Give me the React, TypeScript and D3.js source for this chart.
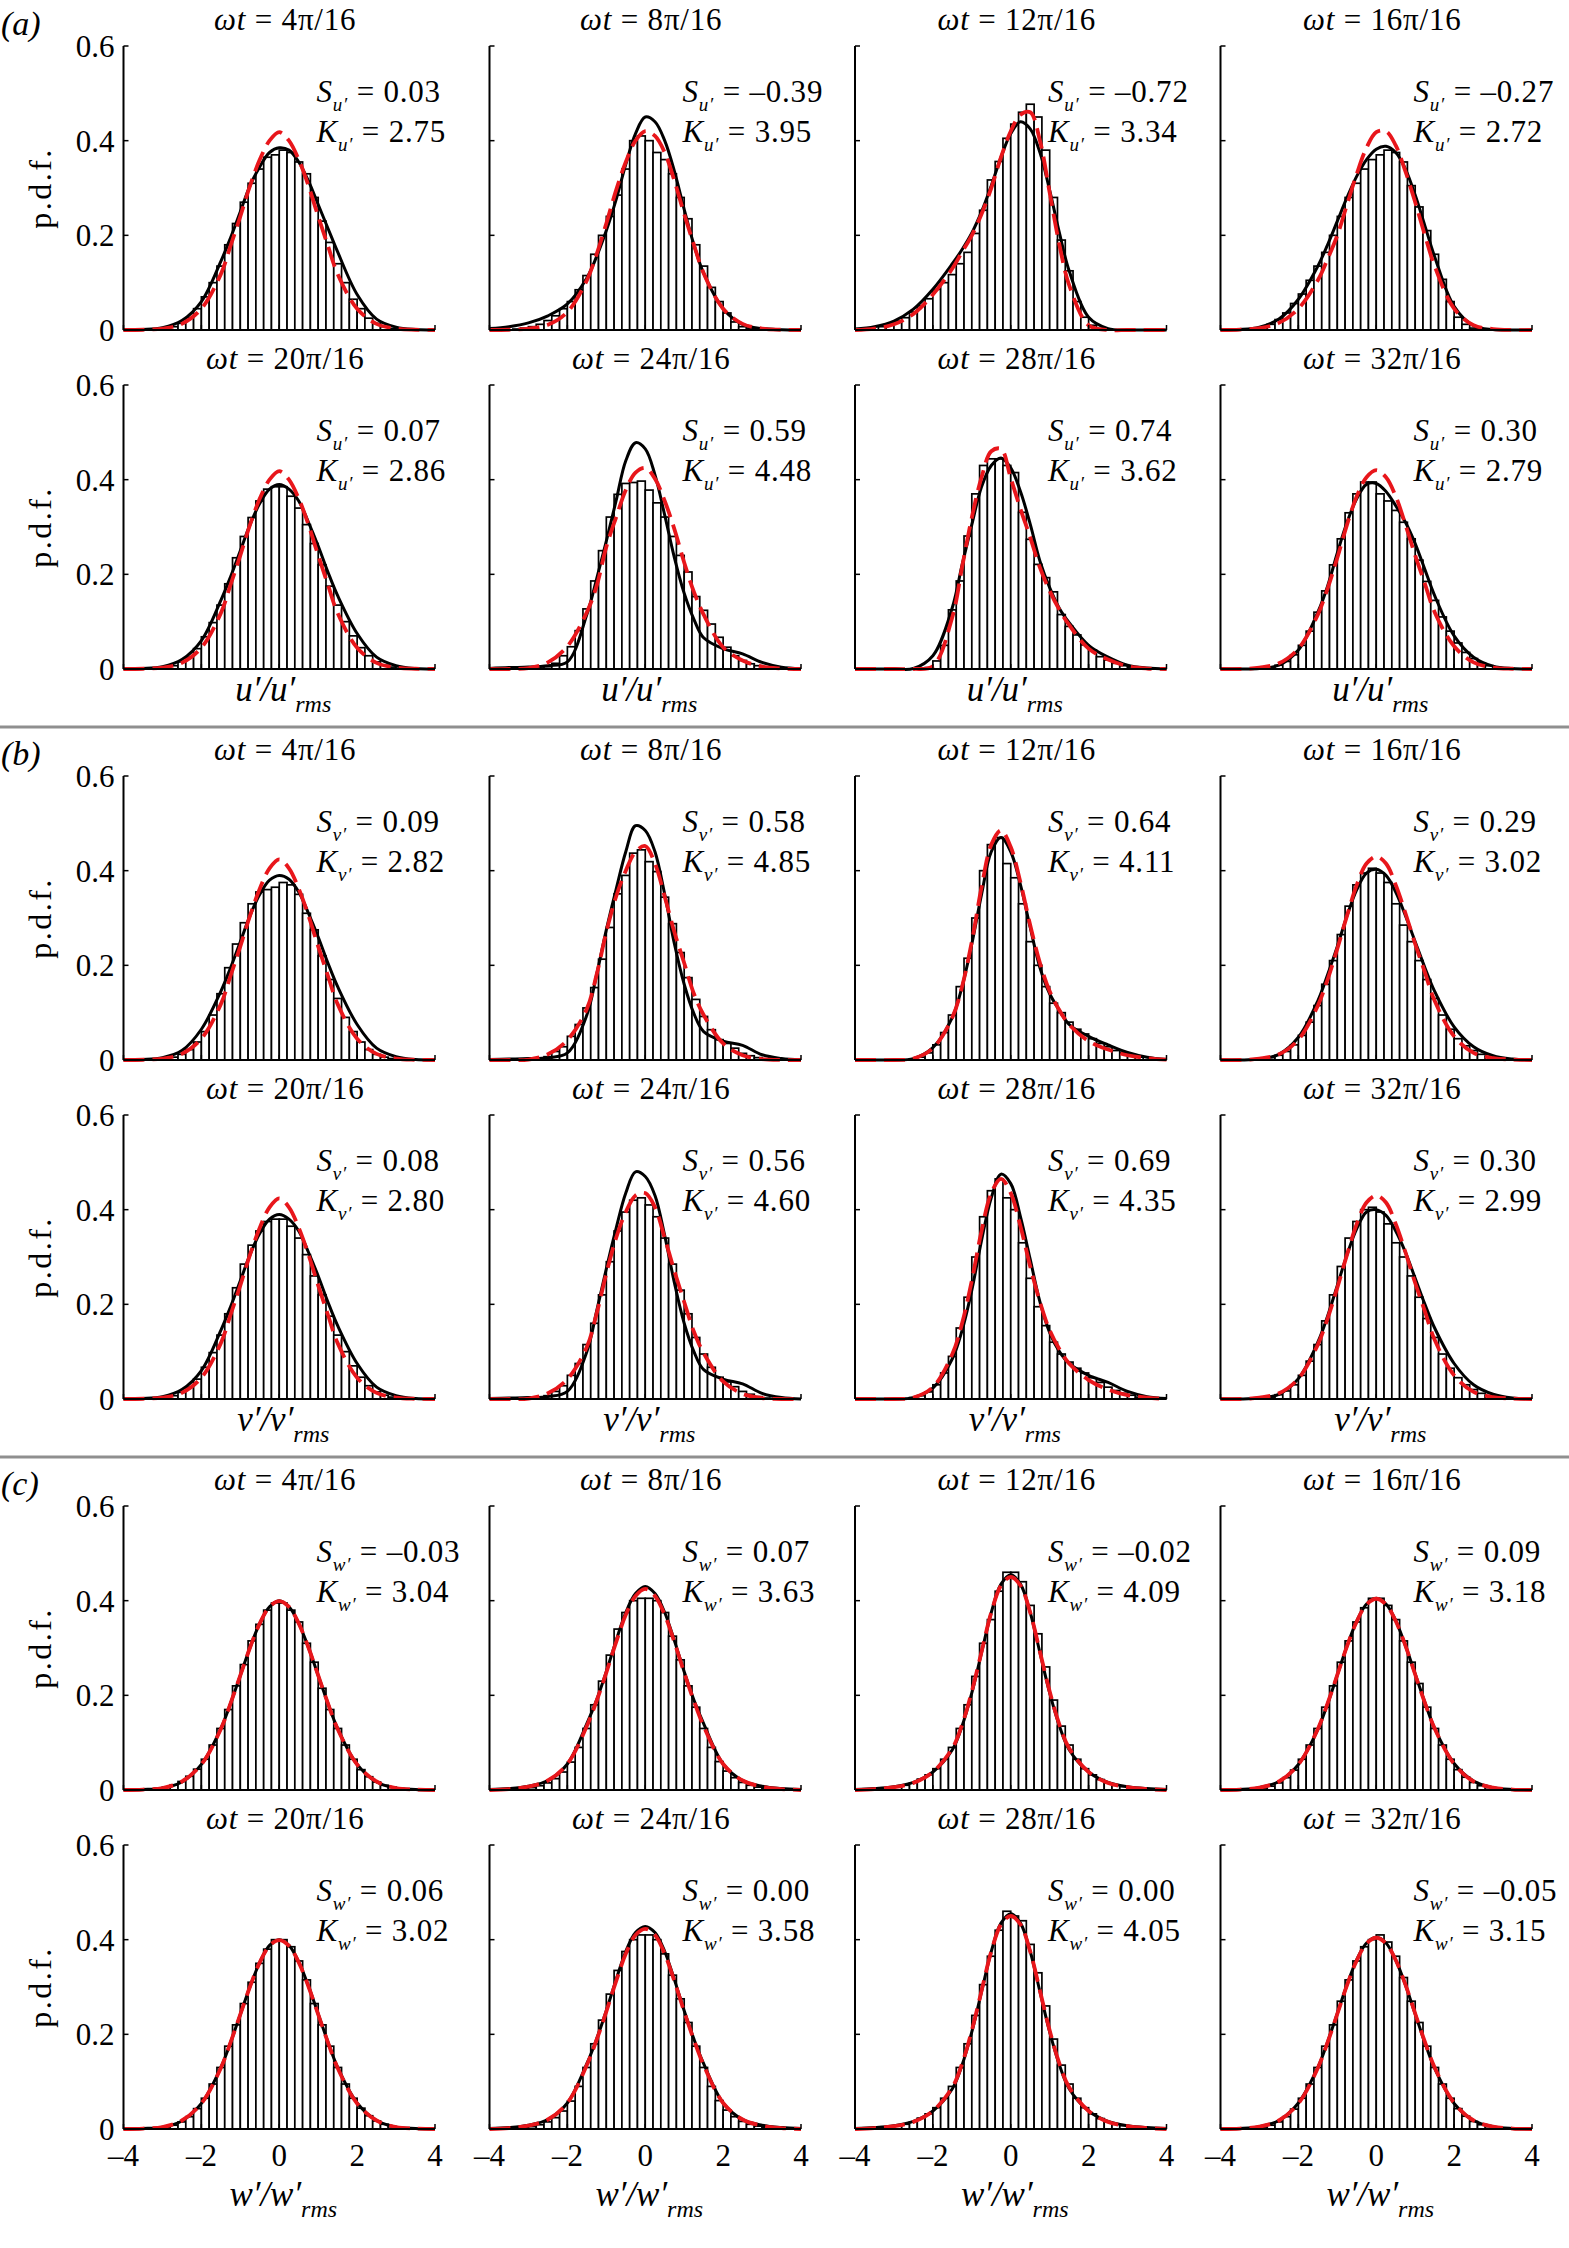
import { scaleLinear, line, curveCatmullRom } from "d3";

// phase labels, wt = k*pi/16
const WT = [4, 8, 12, 16, 20, 24, 28, 32];

const S_U = [0.03, -0.39, -0.72, -0.27, 0.07, 0.59, 0.74, 0.3];
const K_U = [2.75, 3.95, 3.34, 2.72, 2.86, 4.48, 3.62, 2.79];
const S_V = [0.09, 0.58, 0.64, 0.29, 0.08, 0.56, 0.69, 0.3];
const K_V = [2.82, 4.85, 4.11, 3.02, 2.8, 4.6, 4.35, 2.99];
const S_W = [-0.03, 0.07, -0.02, 0.09, 0.06, 0.0, 0.0, -0.05];
const K_W = [3.04, 3.63, 4.09, 3.18, 3.02, 3.58, 4.05, 3.15];

// histogram bins: width 0.2, first bin starts at -3.4 (34 bins), values are p.d.f. x 100
const BIN_START = -3.4;
const BIN_WIDTH = 0.2;

const HIST_U = [
  [0, 0.1, 0.3, 0.7, 1.4, 2.6, 4.5, 7, 10, 13.5, 18, 22.5, 27, 31, 34, 36.5, 37, 38, 37.5, 35.5, 33, 28, 23, 18.5, 14, 10, 6.5, 4.5, 2.5, 1.4, 0.7, 0.3, 0.1, 0],
  [0.2, 0.4, 0.7, 1.2, 2, 3, 4.5, 6, 8.5, 11.5, 16, 20, 24, 28.5, 34, 40, 41, 40, 37.5, 36, 33, 28, 23.5, 18, 13.5, 9, 6, 3.6, 1.7, 0.7, 0.3, 0.1, 0, 0],
  [0.7, 1.2, 1.9, 2.6, 3.8, 5.1, 6.6, 8.6, 10, 11.7, 14, 16.4, 20.4, 25.3, 31.7, 35.6, 40.5, 43.5, 46, 47.7, 45, 38, 28, 19, 12.5, 6, 2.7, 1, 0.3, 0.1, 0, 0, 0, 0],
  [0.1, 0.2, 0.5, 1.2, 2.2, 3.6, 5.6, 7.6, 10.5, 13.5, 16.4, 20, 24, 28, 31, 34, 36, 37, 38, 37.5, 35.5, 30.5, 26, 21, 16, 10.7, 6, 2.7, 1.2, 0.4, 0.1, 0, 0, 0],
  [0, 0.1, 0.3, 0.7, 1.5, 2.5, 4.3, 6.8, 9.8, 13.5, 18, 23.5, 28, 32, 35.5, 38, 38.5, 38.5, 36.5, 34, 30.5, 26.5, 22, 17.5, 13.5, 10, 7, 4.5, 2.8, 1.5, 0.8, 0.4, 0.1, 0],
  [0, 0, 0.1, 0.2, 0.5, 1.2, 2.8, 4.7, 8.1, 12.7, 18.6, 25, 32.1, 36.9, 39.2, 39.4, 39.7, 37.8, 35.1, 32.1, 28, 24, 20.5, 15.3, 12.4, 9.5, 6.7, 4.6, 2.8, 1.8, 1.1, 0.7, 0.3, 0.1],
  [0, 0, 0, 0, 0, 0, 0.3, 1.7, 5, 12.5, 18.6, 28.1, 37, 43, 44.4, 44.4, 43, 41.5, 33.1, 27.4, 22.1, 19.3, 16.3, 11.5, 9, 7.2, 5.1, 4, 2.6, 1.9, 1.2, 0.7, 0.4, 0.2],
  [0, 0, 0.1, 0.3, 0.8, 1.6, 3, 5, 8, 12, 16.5, 22, 27.5, 33, 37, 39.5, 39.5, 37, 35.5, 33.5, 31, 27.5, 23, 18.5, 14.5, 11, 8, 5.5, 3.5, 2.2, 1.3, 0.7, 0.3, 0.1],
];
const HIST_V = [
  [0, 0.1, 0.3, 0.6, 1.2, 2.2, 3.8, 6, 9.5, 14, 19.5, 24.5, 29, 33, 35.5, 36, 36.5, 37.5, 37, 35, 31, 27.5, 22, 17, 13, 9, 6, 3.8, 2.2, 1.2, 0.6, 0.3, 0.1, 0],
  [0, 0.1, 0.2, 0.3, 0.7, 1.8, 2.8, 5, 7.5, 11, 15.3, 21.3, 28, 35.1, 39, 43.7, 44.4, 41.9, 39.8, 34.4, 28.8, 22.7, 17.4, 12.8, 9.2, 6.4, 4.3, 3.5, 2.5, 1.4, 0.9, 0.5, 0.2, 0.1],
  [0, 0, 0, 0, 0.2, 0.6, 1.5, 3.2, 5.8, 9.5, 15.5, 21.5, 30, 40, 45.5, 47, 41.5, 38.5, 33, 25, 20, 15.5, 12, 10, 8, 6.5, 5.5, 4.5, 3.5, 2.8, 2, 1.5, 1, 0.6],
  [0, 0, 0.2, 0.5, 1, 1.8, 3.2, 5.2, 8, 11.5, 16, 21, 26.5, 32.5, 37, 39.5, 40.5, 39.5, 37.5, 33, 28.5, 25, 21, 17, 13, 9.5, 6.5, 4.5, 3, 2, 1.2, 0.7, 0.3, 0.1],
  [0, 0.1, 0.3, 0.7, 1.4, 2.5, 4.2, 6.7, 9.8, 13.5, 18, 23.5, 28.5, 32.5, 35.5, 37.5, 38, 38, 36.5, 34, 30.5, 26, 22, 17.5, 13.5, 10, 7, 4.6, 2.8, 1.5, 0.8, 0.4, 0.1, 0],
  [0, 0.1, 0.2, 0.3, 0.7, 1.6, 2.8, 5, 7.5, 11.5, 16, 22, 29, 35.5, 39.5, 42, 42.5, 41, 38.5, 34, 28.5, 23, 18, 13, 9.5, 6.7, 4.6, 3.6, 2.6, 1.6, 1, 0.5, 0.2, 0.1],
  [0, 0, 0, 0.1, 0.3, 0.7, 1.5, 3, 5.5, 9, 15, 21.5, 30, 38.5, 44, 46.5, 42.5, 40, 33, 25.5, 19.5, 15.5, 12, 9.5, 7.8, 6.5, 5.5, 4.5, 3.5, 2.5, 1.8, 1.2, 0.8, 0.4],
  [0, 0, 0.2, 0.4, 0.9, 1.7, 3, 5, 8, 11.5, 16.5, 22, 28, 34, 37.5, 40, 40.5, 39.5, 37, 33, 30, 26, 21.5, 17, 13, 9.5, 6.5, 4.5, 3, 2, 1.2, 0.7, 0.3, 0.1],
];
const HIST_W = [
  [0.2, 0.35, 0.6, 1.1, 1.8, 2.9, 4.4, 6.5, 9.5, 13, 17, 22, 26.5, 31.5, 35, 38, 39.5, 39.5, 38, 35.5, 31, 27, 21.5, 17, 13, 9.5, 6.5, 4.3, 2.8, 1.7, 1, 0.6, 0.3, 0.2],
  [0.2, 0.3, 0.5, 0.9, 1.5, 2.4, 3.8, 5.9, 9, 13, 18, 23, 28.5, 34, 37.5, 40, 40.5, 40.5, 40, 37.5, 32.5, 27.5, 22, 17.5, 13, 9, 6, 4, 2.6, 1.6, 1, 0.6, 0.3, 0.2],
  [0.3, 0.5, 0.7, 1, 1.5, 2.3, 3.2, 4.5, 6.5, 9, 13, 18, 24, 31, 36, 42, 46, 46, 44, 39, 33, 26, 19, 13.5, 9.5, 6.5, 4.5, 3.2, 2.2, 1.5, 1, 0.7, 0.5, 0.3],
  [0.1, 0.2, 0.4, 0.8, 1.5, 2.6, 4.2, 6.5, 9.5, 13, 17.5, 22, 27, 31.5, 35.5, 38.5, 40.5, 40.5, 39, 36, 31.5, 27, 22.5, 17.5, 13, 9.5, 6.5, 4.3, 2.7, 1.6, 0.9, 0.5, 0.2, 0.1],
  [0.1, 0.2, 0.4, 0.8, 1.5, 2.6, 4.3, 6.5, 9.5, 13, 17.5, 22, 26.5, 31, 35, 38, 40, 40, 38.5, 35.5, 31.5, 26.5, 22, 17.5, 13, 9.5, 6.5, 4.4, 2.8, 1.7, 1, 0.5, 0.2, 0.1],
  [0.2, 0.3, 0.5, 0.9, 1.5, 2.4, 3.8, 5.9, 9, 13, 18, 23, 28.5, 33.5, 37.5, 40, 41, 41, 40, 37, 32.5, 27.5, 22.5, 17.5, 13, 9, 6, 4, 2.6, 1.6, 1, 0.6, 0.3, 0.2],
  [0.3, 0.5, 0.7, 1, 1.5, 2.3, 3.2, 4.5, 6.5, 9, 13, 18, 24, 30.5, 36.5, 42, 46, 45, 44, 39, 33, 26, 19, 13.5, 9.5, 6.5, 4.5, 3.2, 2.2, 1.5, 1, 0.7, 0.5, 0.3],
  [0.1, 0.2, 0.4, 0.8, 1.5, 2.6, 4.2, 6.5, 9.5, 13, 17.5, 22, 27, 31.5, 35.5, 38.5, 40, 41, 39.5, 36.5, 32, 27, 22.5, 17.5, 13, 9.5, 6.5, 4.3, 2.7, 1.6, 0.9, 0.5, 0.2, 0.1],
];

// sample abscissae of the two fitted curves
const CURVE_X = [-4, -3.5, -3, -2.5, -2, -1.5, -1.25, -1, -0.75, -0.5, -0.25, 0, 0.25, 0.5, 0.75, 1, 1.25, 1.5, 2, 2.5, 3, 3.5, 4];

// black solid curves (p.d.f. x 100)
const FIT_U = [
  [0, 0.1, 0.5, 2, 6, 14.5, 19.5, 25, 30.5, 34.5, 37.5, 38.5, 38, 35.5, 31.5, 26.5, 21.5, 16.5, 7.5, 2.3, 0.6, 0.1, 0],
  [0.3, 0.7, 1.5, 3, 5.5, 11, 15.5, 21, 27.5, 35, 41.5, 45, 44, 40, 33.5, 25.5, 18, 12, 4.5, 1.2, 0.3, 0.05, 0],
  [0.2, 0.7, 1.9, 4.4, 8.6, 14, 17, 20.5, 25, 30.5, 36.5, 41.5, 44, 42.5, 37.5, 29.5, 20.5, 12.5, 2.7, 0.3, 0, 0, 0],
  [0, 0.1, 0.6, 2.3, 6.5, 13.5, 18, 23, 28, 32.5, 36, 38.2, 38.8, 37.5, 34, 28.5, 22, 15.5, 5, 0.9, 0.1, 0, 0],
  [0, 0.1, 0.5, 2, 6, 14.5, 19.5, 25, 30.5, 35, 38, 39, 38, 35.5, 31, 26, 20.5, 15.5, 7.5, 2.5, 0.7, 0.1, 0],
  [0.1, 0.3, 0.4, 0.7, 1.5, 11.5, 19, 27, 35.5, 44, 47.8, 46.5, 41, 32.5, 23.5, 16, 10.5, 6.6, 4.3, 3.2, 1.4, 0.4, 0.1],
  [0, 0, 0, 0.1, 2.8, 13, 22, 30.5, 38.5, 43, 44.6, 42.5, 37.5, 30.6, 22.8, 17.2, 12.8, 9.8, 5, 2.5, 0.8, 0.2, 0],
  [0, 0, 0.1, 0.8, 4, 12, 17.5, 24.5, 31, 36, 39, 39.2, 37.5, 34.5, 31, 26.5, 21, 15.5, 7, 2.5, 0.6, 0.1, 0],
];
const FIT_V = [
  [0, 0.1, 0.5, 2, 6.5, 14.5, 19.5, 25, 30.5, 35, 38, 39, 38.2, 35.5, 31, 26, 20.5, 15.5, 7.5, 2.5, 0.7, 0.1, 0],
  [0.1, 0.2, 0.3, 0.5, 1.5, 9.5, 18, 27.5, 36, 44, 49.5, 48.5, 44, 35, 24.5, 16, 9.8, 6, 4, 3.1, 1.1, 0.3, 0],
  [0, 0, 0, 0.3, 2.6, 9, 15.5, 24.5, 35, 44, 47, 44, 37, 28, 19.5, 14, 10.5, 7.5, 5, 3.2, 1.6, 0.6, 0.1],
  [0, 0, 0.2, 1.2, 4.8, 12.5, 18, 24, 30.5, 36, 39.5, 40.3, 39, 35.5, 30.5, 25, 19.5, 14.5, 7, 2.8, 0.9, 0.2, 0],
  [0, 0.1, 0.5, 2, 6, 14.5, 19.5, 25, 30.5, 35, 38, 39, 38, 35.5, 31, 26, 20.5, 15.5, 7.5, 2.5, 0.7, 0.1, 0],
  [0.1, 0.2, 0.3, 0.5, 1.6, 10, 18.5, 27.5, 36, 43.5, 48, 47, 43, 34.5, 24.5, 16, 10, 6.2, 4.2, 3.2, 1.2, 0.3, 0],
  [0, 0, 0, 0.3, 2.3, 8.5, 14.5, 23, 33.5, 42.5, 47.5, 45.5, 38.5, 29.5, 20.5, 14, 10, 7.5, 5, 3.5, 1.6, 0.5, 0.1],
  [0, 0, 0.2, 1, 4.3, 12, 17.5, 24, 30.5, 36, 39.5, 40, 38.8, 35.5, 31, 25.5, 20, 15, 7.5, 3, 1, 0.2, 0],
];
const FIT_W = [
  [0, 0.1, 0.4, 1.7, 5.4, 13, 18.3, 24.2, 30.1, 35.2, 38.7, 40, 38.7, 35.2, 30.1, 24.2, 18.3, 13, 5.4, 1.7, 0.4, 0.1, 0],
  [0.1, 0.3, 0.8, 2, 5.5, 14, 19, 25, 31.5, 37.5, 41.5, 43, 41.5, 37.5, 31.5, 25, 19, 14, 5.5, 2, 0.8, 0.3, 0.1],
  [0.1, 0.3, 0.7, 1.6, 3.8, 8.5, 13.5, 20.5, 29, 37.5, 43.5, 45.5, 43.5, 37.5, 29, 20.5, 13.5, 8.5, 3.8, 1.6, 0.7, 0.3, 0.1],
  [0, 0.1, 0.5, 1.8, 5.4, 12.8, 18.2, 24.3, 30.4, 35.7, 39.3, 40.5, 39.3, 35.8, 30.5, 24.5, 18.5, 13, 5.6, 1.9, 0.5, 0.1, 0],
  [0, 0.1, 0.4, 1.7, 5.4, 13, 18.3, 24.2, 30.1, 35.2, 38.8, 40, 38.8, 35.3, 30.2, 24.3, 18.4, 13, 5.5, 1.8, 0.4, 0.1, 0],
  [0.1, 0.3, 0.8, 2, 5.5, 13.8, 19, 25, 31.5, 37.5, 41.5, 42.8, 41.5, 37.5, 31.5, 25, 19, 13.8, 5.5, 2, 0.8, 0.3, 0.1],
  [0.1, 0.3, 0.7, 1.6, 3.8, 8.5, 13.5, 20.5, 29, 37.5, 43.5, 45.5, 43.5, 37.5, 29, 20.5, 13.5, 8.5, 3.8, 1.6, 0.7, 0.3, 0.1],
  [0, 0.1, 0.5, 1.8, 5.5, 13, 18.4, 24.4, 30.5, 35.8, 39.3, 40.5, 39.3, 35.7, 30.4, 24.3, 18.2, 12.8, 5.4, 1.8, 0.5, 0.1, 0],
];

// red dashed curves (p.d.f. x 100)
const NORM_U = [
  [0, 0.05, 0.3, 1.3, 4.5, 11.8, 17.8, 24, 30.5, 36, 40, 41.8, 40, 36, 30.5, 24, 17.8, 11.8, 4.5, 1.3, 0.3, 0.05, 0],
  [0, 0.05, 0.3, 1.1, 3.8, 10.5, 16, 22.5, 29.5, 35.5, 40, 42, 41, 37.5, 31.5, 24.5, 18, 12, 4.5, 1.3, 0.3, 0.05, 0],
  [0, 0.3, 1.2, 3.4, 7.5, 13, 16.5, 20, 24.5, 30, 36.5, 42, 45.5, 46, 40, 29, 18, 9.5, 1, 0, 0, 0, 0],
  [0, 0.1, 0.4, 1.5, 4.5, 10.5, 15, 20, 26.5, 33, 38.5, 41.8, 42, 39, 33.5, 27, 20, 13.5, 4.5, 1, 0.2, 0, 0],
  [0, 0.05, 0.3, 1.3, 4.5, 11.8, 17.8, 24, 30.5, 36, 40, 41.8, 40, 36, 30.5, 24, 17.8, 11.8, 4.5, 1.3, 0.3, 0.05, 0],
  [0, 0, 0.2, 1.4, 4.8, 12, 17.5, 25.8, 32, 37.8, 41.5, 42.5, 40.2, 35.5, 29.5, 22.5, 16.3, 11.5, 4.6, 1.8, 0.5, 0.1, 0],
  [0, 0, 0, 0, 0.6, 11, 21.5, 32, 40.5, 46, 46.5, 40.3, 33.8, 27.8, 21.4, 16.5, 12.5, 9.3, 4.3, 2, 0.6, 0.1, 0],
  [0, 0, 0.3, 1.2, 4.3, 11.5, 17, 23.5, 30.5, 36.5, 40.5, 42, 40.5, 36.5, 30.5, 24, 18, 12, 4.8, 1.4, 0.3, 0.05, 0],
];
const NORM_V = [
  [0, 0.05, 0.3, 1.3, 4.5, 11.8, 17.8, 24, 30.5, 36.2, 40.5, 42.4, 40.5, 36.2, 30.5, 24, 17.8, 11.8, 4.5, 1.3, 0.3, 0.05, 0],
  [0, 0, 0.1, 1.2, 4.2, 10.8, 18, 27, 34.5, 40, 44, 45.2, 41.5, 34.5, 27, 20.5, 14, 9.5, 3.5, 1, 0.2, 0, 0],
  [0, 0, 0, 0.3, 2.5, 9, 15.5, 25, 36.5, 45.5, 48.5, 45, 37.5, 28.5, 20.5, 14.5, 10.5, 7.5, 4, 2.2, 1, 0.4, 0.1],
  [0, 0, 0.3, 1.2, 4.3, 11.5, 17, 23.5, 30.5, 37, 41.5, 43, 41.5, 37, 31, 24.5, 18.5, 12.5, 5, 1.5, 0.4, 0.1, 0],
  [0, 0.05, 0.3, 1.3, 4.5, 11.8, 17.8, 24, 30.5, 36.2, 40.5, 42.4, 40.5, 36.2, 30.5, 24, 17.8, 11.8, 4.5, 1.3, 0.3, 0.05, 0],
  [0, 0, 0.1, 1.2, 4.2, 11, 18, 26.5, 34, 39.5, 43, 43.5, 40.5, 34, 27, 20.5, 14.2, 9.7, 3.7, 1.1, 0.2, 0, 0],
  [0, 0, 0, 0.3, 2.5, 9.5, 16, 25, 35.5, 43.5, 46.5, 43.5, 36.5, 28, 20.5, 14.5, 10.5, 7.5, 4, 2, 0.8, 0.3, 0],
  [0, 0, 0.3, 1.2, 4.3, 11.5, 17, 23.5, 30.5, 37, 41.5, 43, 41.5, 37, 31, 24.5, 18.5, 12.5, 5, 1.5, 0.4, 0.1, 0],
];
const NORM_W = [
  [0, 0.1, 0.4, 1.8, 5.4, 12.9, 18.3, 24.2, 30.1, 35.2, 38.7, 39.9, 38.7, 35.2, 30.1, 24.2, 18.3, 12.9, 5.4, 1.8, 0.4, 0.1, 0],
  [0, 0.2, 0.7, 2, 5.5, 13.5, 18.8, 24.8, 31.2, 37, 41, 42.5, 41, 37, 31.2, 24.8, 18.8, 13.5, 5.5, 2, 0.7, 0.2, 0],
  [0, 0.2, 0.6, 1.5, 3.8, 8.8, 13.8, 20.8, 29.2, 37.5, 43.2, 45, 43.2, 37.5, 29.2, 20.8, 13.8, 8.8, 3.8, 1.5, 0.6, 0.2, 0],
  [0, 0.1, 0.5, 1.8, 5.4, 12.9, 18.3, 24.3, 30.4, 35.6, 39.2, 40.4, 39.2, 35.7, 30.5, 24.4, 18.4, 13, 5.5, 1.8, 0.5, 0.1, 0],
  [0, 0.1, 0.4, 1.8, 5.4, 12.9, 18.3, 24.2, 30.1, 35.2, 38.7, 39.9, 38.7, 35.2, 30.1, 24.2, 18.3, 12.9, 5.4, 1.8, 0.4, 0.1, 0],
  [0, 0.2, 0.7, 2, 5.5, 13.5, 18.8, 24.8, 31.2, 37, 41, 42.3, 41, 37, 31.2, 24.8, 18.8, 13.5, 5.5, 2, 0.7, 0.2, 0],
  [0, 0.2, 0.6, 1.5, 3.8, 8.8, 13.8, 20.8, 29.2, 37.5, 43.2, 45, 43.2, 37.5, 29.2, 20.8, 13.8, 8.8, 3.8, 1.5, 0.6, 0.2, 0],
  [0, 0.1, 0.5, 1.8, 5.4, 12.9, 18.3, 24.3, 30.4, 35.6, 39.2, 40.4, 39.2, 35.7, 30.5, 24.4, 18.4, 13, 5.5, 1.8, 0.5, 0.1, 0],
];

const Y_TICKS = [0, 0.2, 0.4, 0.6];
const X_TICKS = [-4, -2, 0, 2, 4];

const GROUPS = [
  { label: "a", sym: "u", S: S_U, K: K_U, hist: HIST_U, fit: FIT_U, norm: NORM_U },
  { label: "b", sym: "v", S: S_V, K: K_V, hist: HIST_V, fit: FIT_V, norm: NORM_V },
  { label: "c", sym: "w", S: S_W, K: K_W, hist: HIST_W, fit: FIT_W, norm: NORM_W },
];

const FONT = "'Liberation Serif', 'Times New Roman', Times, serif";
const PW = 311.5;
const PH = 284;
const COL_LEFT = [123.5, 489.5, 855, 1220.5];
const FS = 31;

const fmt = (v: number) => (v < 0 ? "\u2013" + Math.abs(v).toFixed(2) : v.toFixed(2));
const fmtTick = (v: number) => (v < 0 ? "\u2013" + Math.abs(v) : String(v));

const x = scaleLinear().domain([-4, 4]).range([0, PW]);
const y = scaleLinear().domain([0, 0.6]).range([PH, 0]);
const curve = line<number>()
  .x((_, i) => x(CURVE_X[i]))
  .y((d) => y(Math.max(0, d) / 100))
  .curve(curveCatmullRom.alpha(0.5));

function Panel({ g, idx, left, zero }: { g: number; idx: number; left: number; zero: number }) {
  const grp = GROUPS[g];
  const top = zero - PH;
  const row = Math.floor(idx / 4);
  const col = idx % 4;
  const hist = grp.hist[idx];
  return (
    <g>
      <text x={left + PW / 2 + 6} y={top - 16} textAnchor="middle" fontSize={FS} letterSpacing={0.8}>
        <tspan fontStyle="italic">ωt</tspan>
        <tspan>{` = ${WT[idx]}π/16`}</tspan>
      </text>
      <g transform={`translate(${left},${top})`}>
        {hist.map((v, i) =>
          v > 0 ? (
            <rect
              key={i}
              x={x(BIN_START + i * BIN_WIDTH)}
              y={y(v / 100)}
              width={x(BIN_WIDTH) - x(0)}
              height={PH - y(v / 100)}
              fill="#fff"
              stroke="#000"
              strokeWidth={1.7}
            />
          ) : null
        )}
        <path d={curve(grp.fit[idx]) ?? ""} fill="none" stroke="#000" strokeWidth={3} />
        <path
          d={curve(grp.norm[idx]) ?? ""}
          fill="none"
          stroke="#e8161b"
          strokeWidth={3.8}
          strokeDasharray="21 8"
        />
        <line x1={0} x2={0} y1={y(0.6)} y2={y(0)} stroke="#000" strokeWidth={2} />
        <line x1={0} x2={PW} y1={y(0)} y2={y(0)} stroke="#000" strokeWidth={2} />
        {Y_TICKS.map((t) => (
          <line key={t} x1={0} x2={5} y1={y(t)} y2={y(t)} stroke="#000" strokeWidth={1.5} />
        ))}
        {X_TICKS.map((t) => (
          <line key={t} x1={x(t)} x2={x(t)} y1={PH} y2={PH - 5} stroke="#000" strokeWidth={1.5} />
        ))}
        {col === 0 &&
          Y_TICKS.map((t) => (
            <text key={t} x={-9} y={y(t)} dy="0.35em" textAnchor="end" fontSize={FS}>
              {t === 0 ? "0" : t.toFixed(1)}
            </text>
          ))}
        <text x={193} y={56} fontSize={FS} letterSpacing={0.8}>
          <tspan fontStyle="italic">S</tspan>
          <tspan fontStyle="italic" fontSize={19} dy={9}>{`${grp.sym}′`}</tspan>
          <tspan dy={-9}>{` = ${fmt(grp.S[idx])}`}</tspan>
        </text>
        <text x={193} y={96} fontSize={FS} letterSpacing={0.8}>
          <tspan fontStyle="italic">K</tspan>
          <tspan fontStyle="italic" fontSize={19} dy={9}>{`${grp.sym}′`}</tspan>
          <tspan dy={-9}>{` = ${grp.K[idx].toFixed(2)}`}</tspan>
        </text>
        {col === 0 && (
          <text
            transform={`translate(${-73},${PH / 2}) rotate(-90)`}
            textAnchor="middle"
            fontSize={32}
            letterSpacing={2.5}
          >
            p.d.f.
          </text>
        )}
        {row === 1 && g === 2 &&
          X_TICKS.map((t) => (
            <text key={t} x={x(t)} y={PH + 37} textAnchor="middle" fontSize={31}>
              {fmtTick(t)}
            </text>
          ))}
        {row === 1 && (
          <text x={PW / 2 + 4} y={PH + (g === 2 ? 77 : 32)} textAnchor="middle" fontSize={35}>
            <tspan fontStyle="italic">{`${grp.sym}′/${grp.sym}′`}</tspan>
            <tspan fontStyle="italic" fontSize={24} dy={11}>rms</tspan>
          </text>
        )}
      </g>
    </g>
  );
}

export default function App() {
  return (
    <svg
      width={1569}
      height={2248}
      style={{ position: "absolute", left: 0, top: 0, background: "#fff", whiteSpace: "pre" }}
      fontFamily={FONT}
      fill="#000"
    >
      {GROUPS.map((grp, g) => {
        const base = 330 + g * 730;
        return (
          <g key={grp.label}>
            <text x={1} y={base - PH - 11} fontSize={34} fontStyle="italic">
              ({grp.label})
            </text>
            {WT.map((_, idx) => (
              <Panel
                key={idx}
                g={g}
                idx={idx}
                left={COL_LEFT[idx % 4]}
                zero={base + Math.floor(idx / 4) * 339}
              />
            ))}
            {g < 2 && (
              <line x1={0} x2={1569} y1={base + 397} y2={base + 397} stroke="#8f8f8f" strokeWidth={3} />
            )}
          </g>
        );
      })}
    </svg>
  );
}
